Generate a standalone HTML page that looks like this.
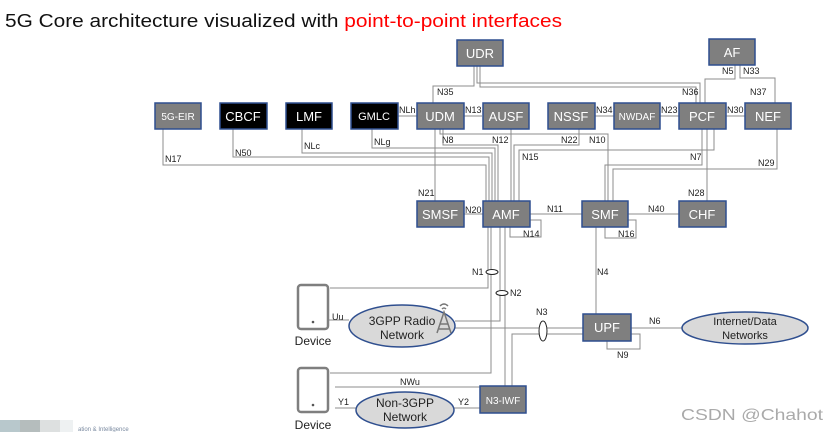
<!DOCTYPE html>
<html><head><meta charset="utf-8"><style>
html,body{margin:0;padding:0;background:#fff;}
svg{display:block;}
text{font-family:"Liberation Sans",Arial,sans-serif;}
</style></head><body>
<svg width="838" height="432" viewBox="0 0 838 432" xmlns="http://www.w3.org/2000/svg">
<text x="5" y="27" font-size="18" textLength="557" lengthAdjust="spacingAndGlyphs" fill="#111">5G Core architecture visualized with <tspan fill="#ff0000">point-to-point interfaces</tspan></text>

<g fill="none" stroke="#8c8c8c" stroke-width="1">
<!-- UDR lines -->
<polyline points="474,66 474,86 433,86 433,103"/>
<polyline points="477,66 477,83 700,83 700,103"/>
<polyline points="480,66 480,87 696,87 696,103"/>
<!-- AF -->
<polyline points="735,65 735,79 705,79 705,103"/>
<polyline points="740,65 740,78 775,78 775,103"/>
<!-- horizontal neighbours -->
<line x1="398" y1="116" x2="417" y2="116"/>
<line x1="464" y1="116" x2="482" y2="116"/>
<line x1="595" y1="116" x2="614" y2="116"/>
<line x1="660" y1="116" x2="679" y2="116"/>
<line x1="726" y1="116" x2="745" y2="116"/>
<!-- left NFs to AMF -->
<polyline points="163,129 163,165 486,165 486,201"/>
<polyline points="233,129 233,157 489,157 489,201"/>
<polyline points="302,129 302,153 492,153 492,201"/>
<polyline points="372,129 372,148 495,148 495,201"/>
<polyline points="440,129 440,134 608,134 608,201"/>
<polyline points="443,129 443,145 498,145 498,201"/>
<line x1="435" y1="129" x2="435" y2="201"/>
<line x1="511" y1="129" x2="511" y2="201"/>
<polyline points="579,129 579,145 514,145 514,201"/>
<polyline points="714,129 714,150 519,150 519,201"/>
<polyline points="702,129 702,165 605,165 605,201"/>
<line x1="707" y1="129" x2="707" y2="201"/>
<polyline points="777,129 777,169 613,169 613,201"/>
<!-- middle row -->
<line x1="464" y1="214" x2="483" y2="214"/>
<line x1="530" y1="214" x2="582" y2="214"/>
<line x1="628" y1="214" x2="679" y2="214"/>
<polyline points="510,227 510,237 541,237 541,220 530,220"/>
<polyline points="605,227 605,238 636,238 636,220 628,220"/>
<line x1="596" y1="227" x2="596" y2="314"/>
<!-- AMF down -->
<polyline points="488,227 488,288 330,288"/>
<polyline points="491,227 491,373 330,373"/>
<polyline points="500,227 500,321 455,321"/>
<line x1="505" y1="227" x2="505" y2="386"/>
<polyline points="512,386 512,334 583,334"/>
<line x1="455" y1="328" x2="583" y2="328"/>
<line x1="631" y1="328" x2="682" y2="328"/>
<polyline points="607,341 607,349 640,349 640,334 631,334"/>
<line x1="335" y1="387" x2="480" y2="387"/>
<line x1="335" y1="408" x2="356" y2="408"/>
<line x1="454" y1="408" x2="480" y2="408"/>
<line x1="329" y1="320" x2="349" y2="320"/>
</g>
<!-- small ellipses -->
<g fill="#fff" stroke="#222" stroke-width="1">
<ellipse cx="492" cy="272" rx="6" ry="2.5"/>
<ellipse cx="502" cy="293" rx="6" ry="2.5"/>
<ellipse cx="543" cy="331" rx="4" ry="10"/>
</g>

<!-- boxes -->
<g stroke="#2f4f8f" stroke-width="1.5">
<rect x="457" y="40" width="46" height="26" fill="#7f7f7f"/>
<rect x="709" y="39" width="46" height="26" fill="#7f7f7f"/>
<rect x="155" y="103" width="46" height="26" fill="#7f7f7f"/>
<rect x="220" y="103" width="47" height="26" fill="#000"/>
<rect x="286" y="103" width="46" height="26" fill="#000"/>
<rect x="351" y="103" width="47" height="26" fill="#000"/>
<rect x="417" y="103" width="47" height="26" fill="#7f7f7f"/>
<rect x="483" y="103" width="46" height="26" fill="#7f7f7f"/>
<rect x="548" y="103" width="47" height="26" fill="#7f7f7f"/>
<rect x="614" y="103" width="46" height="26" fill="#7f7f7f"/>
<rect x="679" y="103" width="47" height="26" fill="#7f7f7f"/>
<rect x="745" y="103" width="46" height="26" fill="#7f7f7f"/>
<rect x="417" y="201" width="47" height="26" fill="#7f7f7f"/>
<rect x="483" y="201" width="47" height="26" fill="#7f7f7f"/>
<rect x="582" y="201" width="46" height="26" fill="#7f7f7f"/>
<rect x="679" y="201" width="47" height="26" fill="#7f7f7f"/>
<rect x="583" y="314" width="48" height="27" fill="#7f7f7f"/>
<rect x="480" y="386" width="46" height="27" fill="#7f7f7f"/>
<ellipse cx="402" cy="326" rx="53" ry="21" fill="#d9d9d9"/>
<ellipse cx="405" cy="410" rx="49" ry="18" fill="#d9d9d9"/>
<ellipse cx="745" cy="328" rx="63" ry="16" fill="#d9d9d9"/>
</g>
<g fill="#fff" font-size="13" text-anchor="middle">
<text x="480" y="58">UDR</text>
<text x="732" y="57">AF</text>
<text x="178" y="120" font-size="10">5G-EIR</text>
<text x="243" y="121">CBCF</text>
<text x="309" y="121">LMF</text>
<text x="374" y="120" font-size="11">GMLC</text>
<text x="440" y="121">UDM</text>
<text x="506" y="121">AUSF</text>
<text x="571" y="121">NSSF</text>
<text x="637" y="120" font-size="10">NWDAF</text>
<text x="702" y="121">PCF</text>
<text x="768" y="121">NEF</text>
<text x="440" y="219">SMSF</text>
<text x="506" y="219">AMF</text>
<text x="605" y="219">SMF</text>
<text x="702" y="219">CHF</text>
<text x="607" y="332">UPF</text>
<text x="503" y="404" font-size="10">N3-IWF</text>
</g>
<!-- tower -->
<g stroke="#777" fill="none" stroke-width="1.5">
<polyline points="437,333 444,312 451,333"/>
<line x1="440" y1="324" x2="448" y2="324"/>
<line x1="439" y1="329" x2="449" y2="329"/>
<path d="M440,306 Q444,302 448,306 M442,309 Q444,307 446,309"/>
</g>
<g fill="#222" font-size="12" text-anchor="middle">
<text x="402" y="325">3GPP Radio</text>
<text x="402" y="339">Network</text>
<text x="405" y="407">Non-3GPP</text>
<text x="405" y="421">Network</text>
<text x="745" y="325" font-size="11">Internet/Data</text>
<text x="745" y="339" font-size="11">Networks</text>
<text x="313" y="345">Device</text>
<text x="313" y="429">Device</text>
</g>
<!-- devices -->
<g fill="#fff" stroke="#7f7f7f" stroke-width="2.5">
<rect x="298" y="285" width="30" height="44" rx="3"/>
<rect x="298" y="368" width="30" height="44" rx="3"/>
</g>
<circle cx="313" cy="322" r="1.3" fill="#555"/>
<circle cx="313" cy="405" r="1.3" fill="#555"/>

<g fill="#222" font-size="9">
<text x="437" y="95">N35</text>
<text x="399" y="113">NLh</text>
<text x="465" y="113">N13</text>
<text x="596" y="113">N34</text>
<text x="661" y="113">N23</text>
<text x="727" y="113">N30</text>
<text x="722" y="74">N5</text>
<text x="743" y="74">N33</text>
<text x="682" y="95">N36</text>
<text x="750" y="95">N37</text>
<text x="165" y="162">N17</text>
<text x="235" y="156">N50</text>
<text x="304" y="149">NLc</text>
<text x="374" y="145">NLg</text>
<text x="442" y="143">N8</text>
<text x="492" y="143">N12</text>
<text x="561" y="143">N22</text>
<text x="589" y="143">N10</text>
<text x="522" y="160">N15</text>
<text x="690" y="160">N7</text>
<text x="758" y="166">N29</text>
<text x="688" y="196">N28</text>
<text x="418" y="196">N21</text>
<text x="465" y="213">N20</text>
<text x="547" y="212">N11</text>
<text x="648" y="212">N40</text>
<text x="523" y="237">N14</text>
<text x="618" y="237">N16</text>
<text x="597" y="275">N4</text>
<text x="472" y="275">N1</text>
<text x="510" y="296">N2</text>
<text x="536" y="315">N3</text>
<text x="649" y="324">N6</text>
<text x="617" y="358">N9</text>
<text x="332" y="320">Uu</text>
<text x="400" y="385">NWu</text>
<text x="338" y="405">Y1</text>
<text x="458" y="405">Y2</text>
</g>
<text x="681" y="420" font-size="16" fill="#aaa" font-family="'DejaVu Sans',sans-serif" textLength="142" lengthAdjust="spacingAndGlyphs">CSDN @Chahot</text>
<rect x="0" y="420" width="20" height="12" fill="#b8c8cc"/>
<rect x="20" y="420" width="20" height="12" fill="#b5bdbd"/>
<rect x="40" y="420" width="20" height="12" fill="#dde0e0"/>
<rect x="60" y="420" width="13" height="12" fill="#eef1f2"/>
<text x="78" y="431" font-size="6" fill="#7a8aa0">ation &amp; Intelligence</text>
</svg>
</body></html>
